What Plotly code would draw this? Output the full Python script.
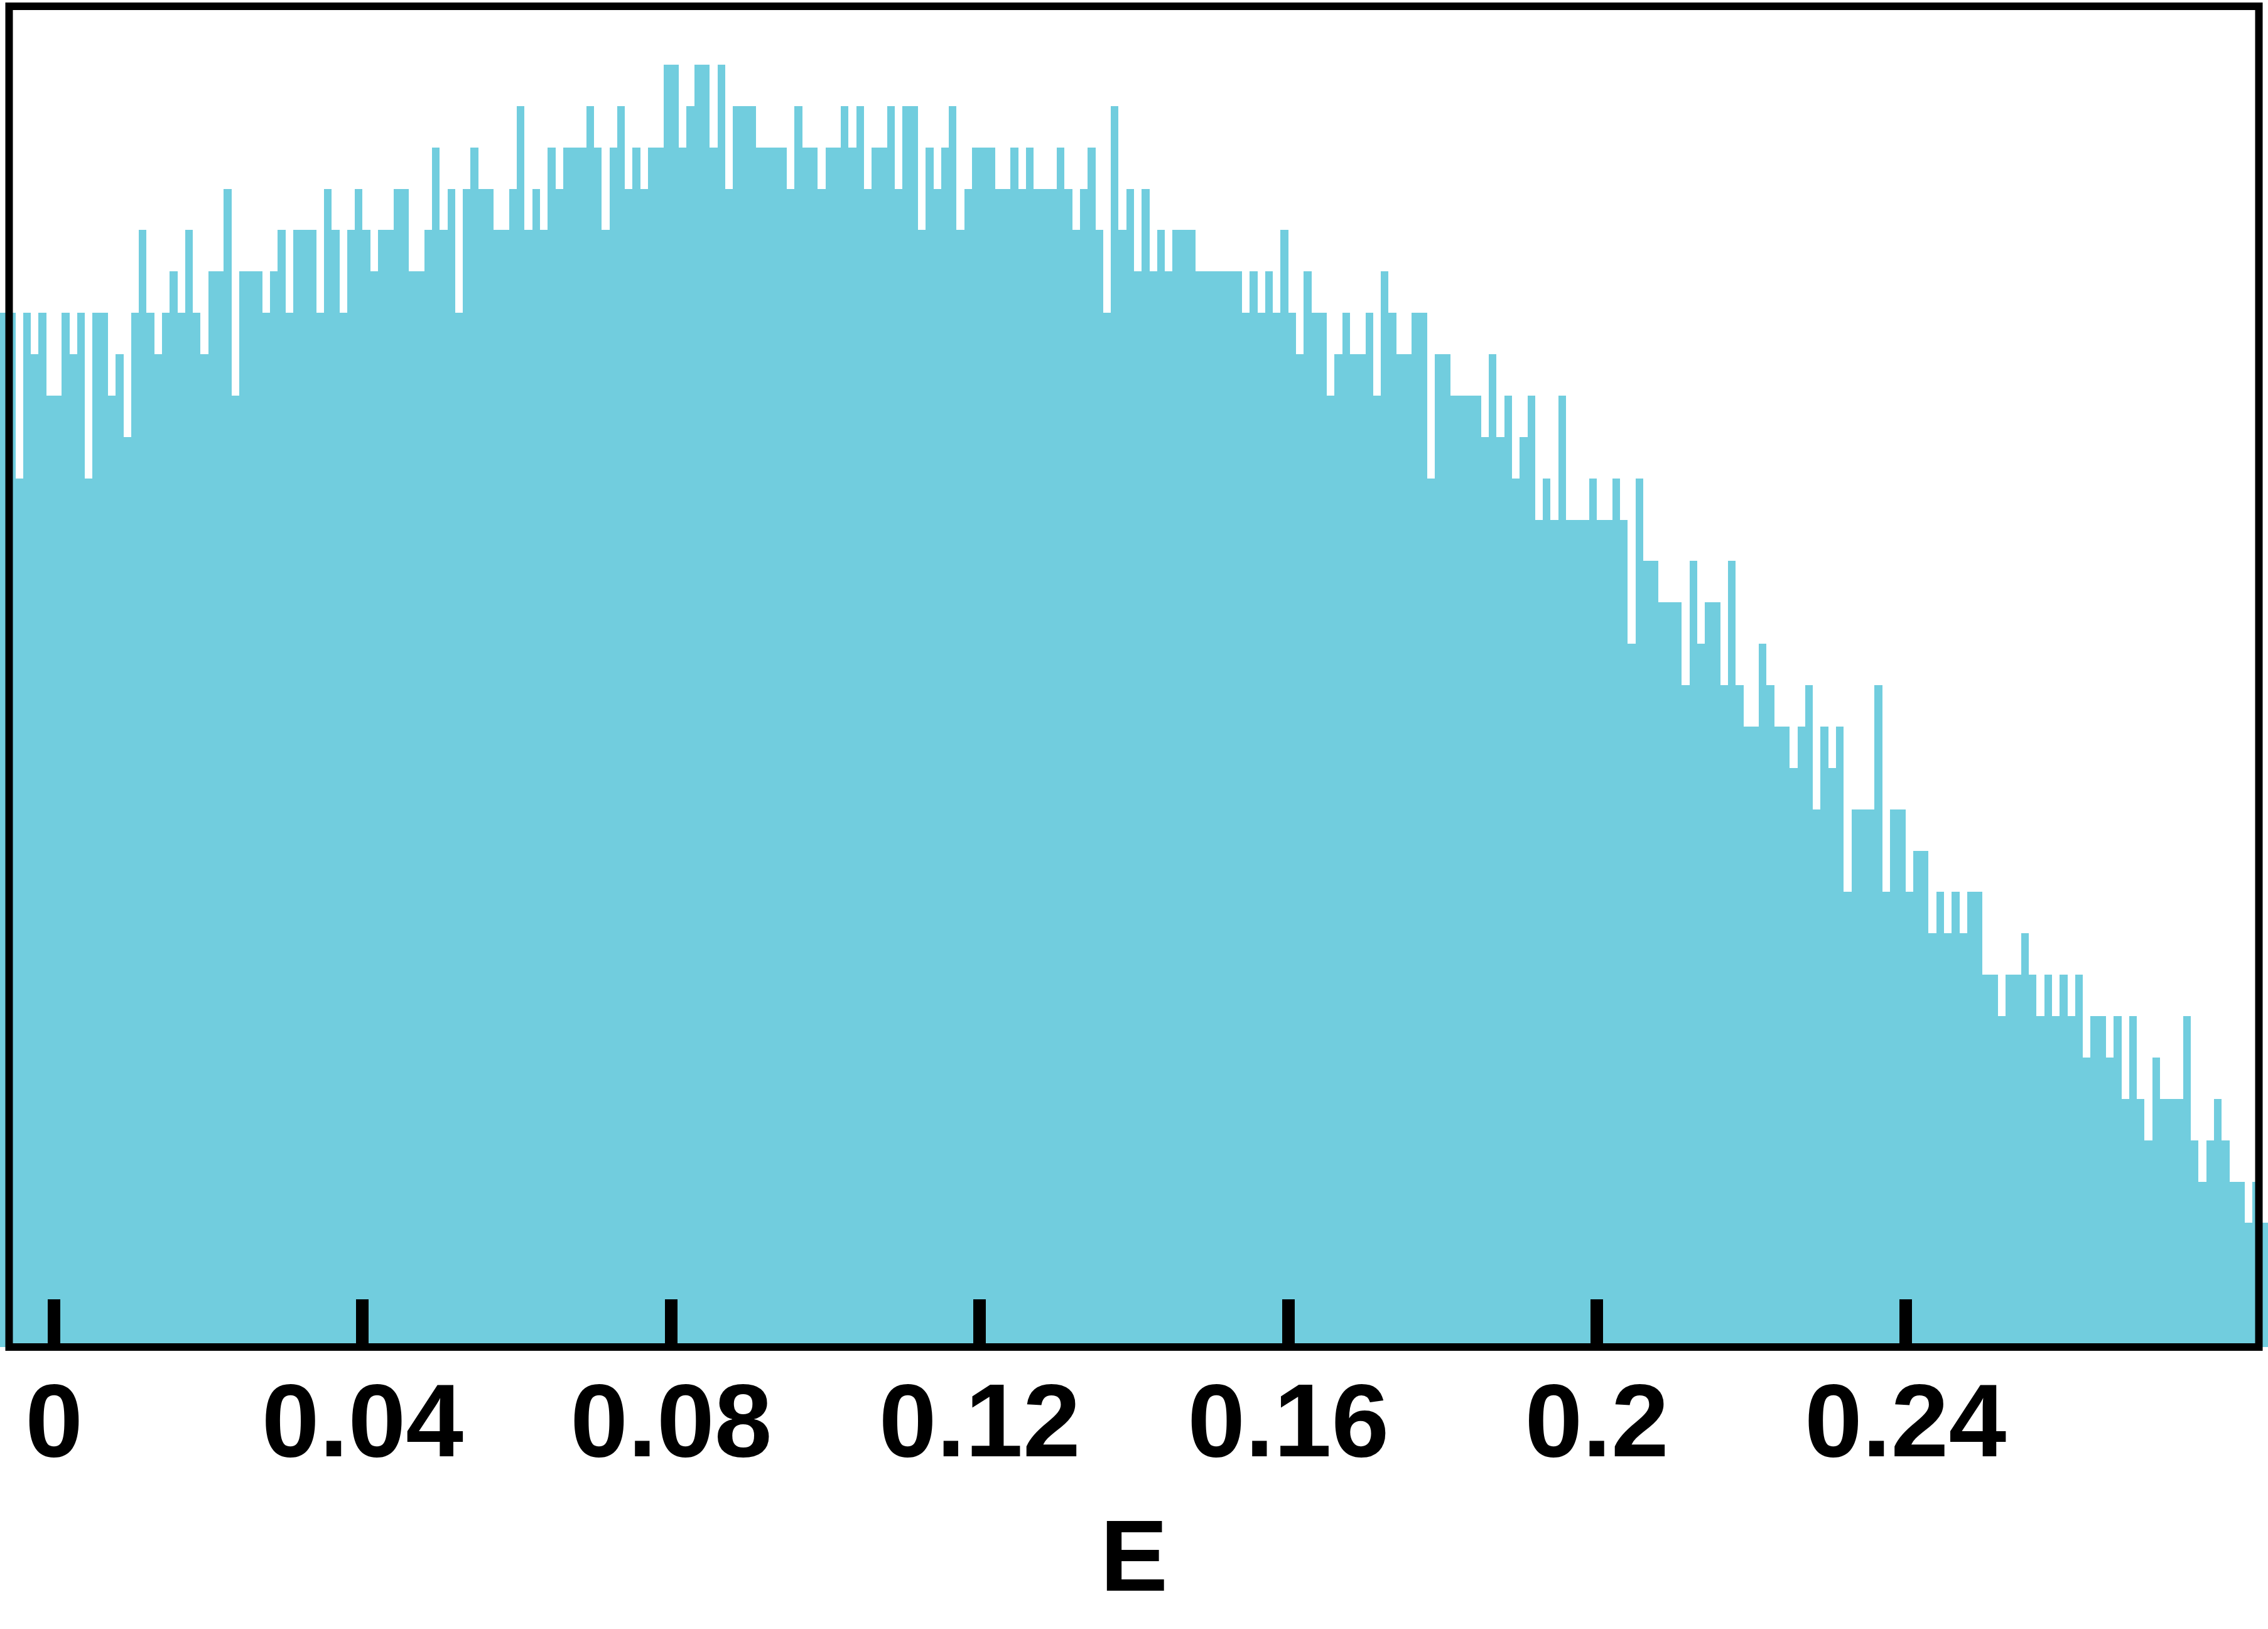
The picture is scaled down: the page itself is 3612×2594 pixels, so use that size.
import plotly.graph_objects as go

# histogram of E: bins of width 0.001 starting at -0.007
BIN_START = -0.007
BIN_WIDTH = 0.001
COUNTS = [
    25, 25, 21, 25, 24, 25, 23, 23, 25, 24, 25, 21, 25, 25, 23, 24, 22, 25, 27, 25,
    24, 25, 26, 25, 27, 25, 24, 26, 26, 28, 23, 26, 26, 26, 25, 26, 27, 25, 27,
    27, 27, 25, 28, 27, 25, 27, 28, 27, 26, 27, 27, 28, 28, 26, 26, 27, 29, 27, 28,
    25, 28, 29, 28, 28, 27, 27, 28, 30, 27, 28, 27, 29, 28, 29, 29, 29, 30, 29, 27,
    29, 30, 28, 29, 28, 29, 29, 31, 31,
    29, 30, 31, 31, 29, 31, 28, 30, 30, 30, 29, 29, 29, 29, 28, 30, 29, 29, 28, 29,
    29, 30, 29, 30, 28, 29, 29, 30, 28, 30, 30, 27, 29, 28, 29, 30, 27, 28, 29, 29,
    29, 28, 28, 29, 28, 29, 28,
    28, 28, 29, 28, 27, 28, 29, 27, 25, 30, 27, 28, 26, 28, 26, 27, 26, 27, 27, 27,
    26, 26, 26, 26, 26, 26, 25, 26, 25, 26, 25, 27, 25, 24, 26, 25, 25, 23, 24, 25,
    24, 24, 25, 23, 26, 25, 24, 24, 25, 25, 21, 24, 24, 23, 23, 23, 23, 22, 24, 22,
    23, 21, 22, 23, 20, 21, 20, 23, 20, 20, 20, 21, 20, 20, 21, 20, 17, 21, 19,
    19, 18, 18, 18, 16, 19, 17, 18, 18, 16, 19, 16, 15, 15, 17, 16, 15, 15, 14, 15,
    16, 13, 15, 14, 15, 11, 13, 13, 13, 16, 11, 13, 13, 11, 12, 12, 10, 11, 10, 11,
    10, 11, 11, 9, 9, 8, 9, 9, 10, 9, 8, 9, 8, 9, 8, 9, 7, 8, 8, 7,
    8, 6, 8, 6, 5, 7, 6, 6, 6, 8, 5, 4, 5, 6, 5, 4, 4, 3, 4, 3,
]
TICK_VALUES = [0, 0.04, 0.08, 0.12, 0.16, 0.2, 0.24]
TICK_LABELS = ["0", "0.04", "0.08", "0.12", "0.16", "0.2", "0.24"]
X_TITLE = "E"

W, H = 3612, 2594
BAR_COLOR = "#71CDDE"
FONT = dict(family="Liberation Sans, Arial, sans-serif", size=165, color="black", weight="bold")

centers = [BIN_START + (i + 0.5) * BIN_WIDTH for i in range(len(COUNTS))]
x_lo = BIN_START
x_hi = BIN_START + len(COUNTS) * BIN_WIDTH

fig = go.Figure(
    go.Bar(
        x=centers,
        y=COUNTS,
        width=BIN_WIDTH,
        marker=dict(color=BAR_COLOR, line=dict(width=0)),
        hoverinfo="x+y",
    )
)

fig.update_layout(
    width=W,
    height=H,
    margin=dict(l=0, r=0, t=10, b=449),
    paper_bgcolor="white",
    plot_bgcolor="white",
    bargap=0,
    showlegend=False,
    shapes=[
        dict(
            type="rect", xref="paper", yref="paper",
            x0=14.5 / W, x1=3597.5 / W, y0=0, y1=1,
            line=dict(color="black", width=12), layer="above",
        )
    ],
)

fig.update_xaxes(
    range=[x_lo, x_hi],
    tickvals=TICK_VALUES,
    ticktext=TICK_LABELS,
    ticks="inside",
    ticklen=76,
    tickwidth=20,
    tickcolor="black",
    tickfont=FONT,
    ticklabelstandoff=8,
    showgrid=False,
    zeroline=False,
    showline=False,
    title=dict(text=X_TITLE, font=dict(FONT, size=162), standoff=66),
)
fig.update_yaxes(
    range=[0, 32.41],
    showticklabels=False,
    showgrid=False,
    zeroline=False,
    showline=False,
    ticks="",
)

# drop the browser's default 8px body margin so the figure sits at the page origin
fig.write_html(
    "out.html",
    config={"displayModeBar": False},
    post_script="document.body.style.margin='0';",
)
